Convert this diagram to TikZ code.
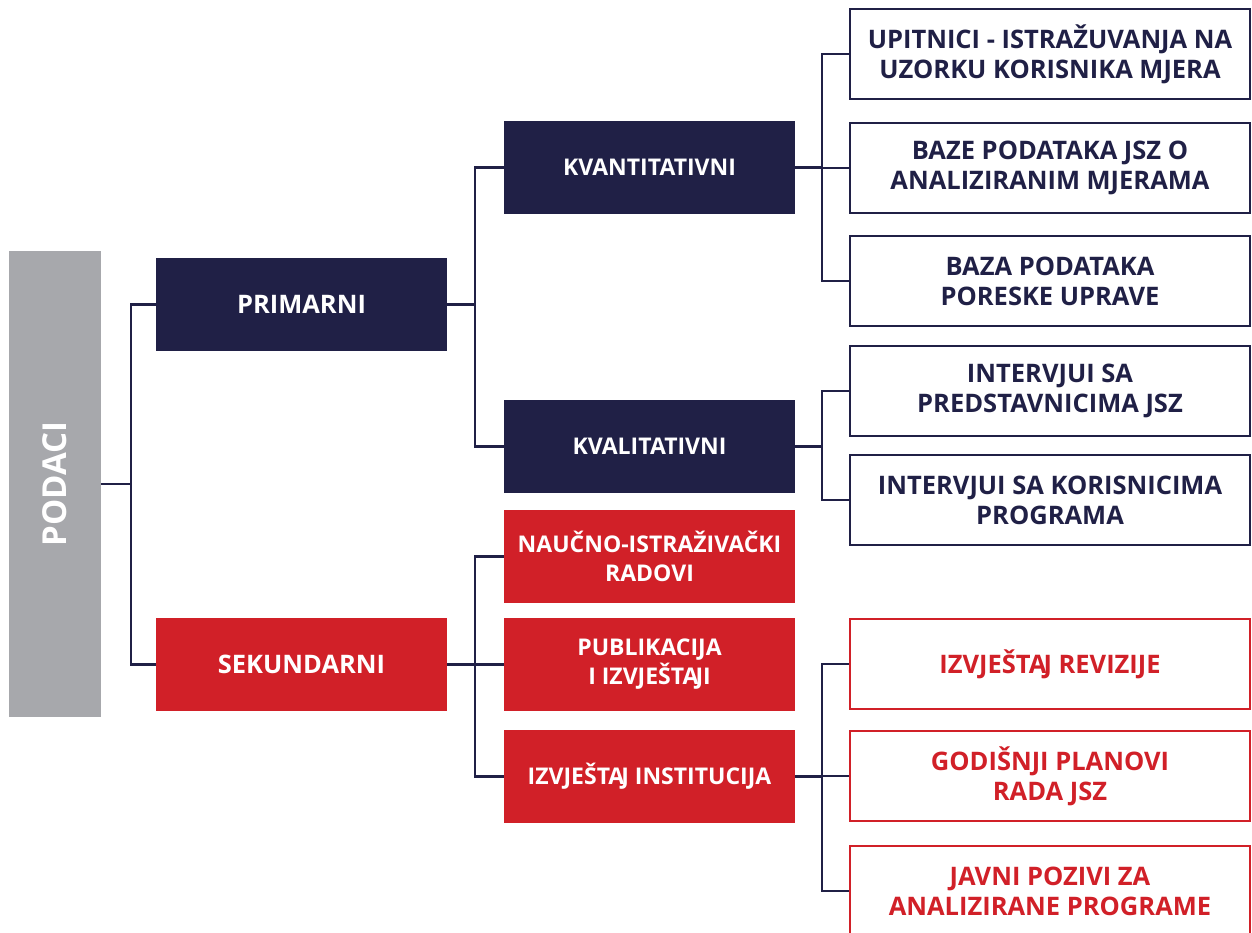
\documentclass[tikz,border=0pt]{standalone}
\usepackage{fontspec}
\setmainfont{Open Sans}
\definecolor{navy}{HTML}{202046}
\definecolor{brandred}{HTML}{D12028}
\definecolor{podgray}{HTML}{A7A8AC}
\newcommand{\AJ}{A\kern-3pt J}
\begin{document}
\begin{tikzpicture}[x=1pt,y=-1pt,
  every node/.style={inner sep=0pt, align=center, font=\bfseries\fontsize{25.5}{30}\selectfont},
  navybox/.style={fill=navy, text=white, minimum width=291pt, minimum height=93pt},
  redbox/.style={fill=brandred, text=white, minimum width=291pt, minimum height=93pt},
  midtext/.style={font=\bfseries\fontsize{23}{29}\selectfont},
  navyout/.style={draw=navy, line width=2pt, fill=white, text=navy, minimum width=400pt, minimum height=90pt},
  redout/.style={draw=brandred, line width=2pt, fill=white, text=brandred, minimum width=400pt, minimum height=90pt},
  conn/.style={draw=navy, line width=2.2pt}
]
\useasboundingbox (0,0) rectangle (1252,933);
% root
\node[fill=podgray, minimum width=92pt, minimum height=466pt] (podaci) at (55,484) {};
\node[text=white, rotate=90, font=\bfseries\fontsize{33}{36}\selectfont] (podacit) at (podaci.center) {PODACI};
% level 1
\node[navybox] (prim) at (301.5,304.5) {PRIMARNI};
\node[redbox] (sek) at (301.5,664.5) {SEKUNDARNI};
% level 2
\node[navybox, midtext] (kvant) at (649.5,167.5) {KVANTITATIVNI};
\node[navybox, midtext] (kval) at (649.5,446.5) {KVALITATIVNI};
\node[redbox, midtext] (nauc) at (649.5,556.5) {NAUČNO-ISTRAŽIVAČKI\\RADOVI};
\node[redbox, midtext] (publ) at (649.5,664.5) {PUBLIKACIJA\\I IZVJEŠT\AJ I};
\node[redbox, midtext] (inst) at (649.5,776.5) {IZVJEŠT\AJ\ INSTITUCIJA};
% level 3
\node[navyout] (upit) at (1050,54) {UPITNICI - ISTRAŽUVANJA NA\\UZORKU KORISNIKA MJERA};
\node[navyout] (baze) at (1050,168) {BAZE PODATAKA JSZ O\\ANALIZIRANIM MJERAMA};
\node[navyout] (baza) at (1050,281) {BAZA PODATAKA\\PORESKE UPRAVE};
\node[navyout] (intp) at (1050,391) {INTERVJUI SA\\PREDSTAVNICIMA JSZ};
\node[navyout] (intk) at (1050,500) {INTERVJUI SA KORISNICIMA\\PROGRAMA};
\node[redout] (rev) at (1050,664) {IZVJEŠT\AJ\ REVIZIJE};
\node[redout] (god) at (1050,776) {GODIŠNJI PLANOVI\\RADA JSZ};
\node[redout] (javni) at (1050,891) {JAVNI POZIVI ZA\\ANALIZIRANE PROGRAME};
% connectors
\draw[conn] (podaci.east) -- +(30,0) coordinate (j1);
\draw[conn] (j1) |- (prim.west);
\draw[conn] (j1) |- (sek.west);
\draw[conn] (prim.east) -- +(28,0) coordinate (j2);
\draw[conn] (j2) |- (kvant.west);
\draw[conn] (j2) |- (kval.west);
\draw[conn] (sek.east) -- +(28,0) coordinate (j3);
\draw[conn] (j3) |- (nauc.west);
\draw[conn] (j3) |- (publ.west);
\draw[conn] (j3) |- (inst.west);
\draw[conn] (kvant.east) -- +(27,0) coordinate (j4);
\draw[conn] (j4) |- (upit.west);
\draw[conn] (j4) |- (baze.west);
\draw[conn] (j4) |- (baza.west);
\draw[conn] (kval.east) -- +(27,0) coordinate (j5);
\draw[conn] (j5) |- (intp.west);
\draw[conn] (j5) |- (intk.west);
\draw[conn] (inst.east) -- +(27,0) coordinate (j6);
\draw[conn] (j6) |- (rev.west);
\draw[conn] (j6) |- (god.west);
\draw[conn] (j6) |- (javni.west);
\end{tikzpicture}
\end{document}
